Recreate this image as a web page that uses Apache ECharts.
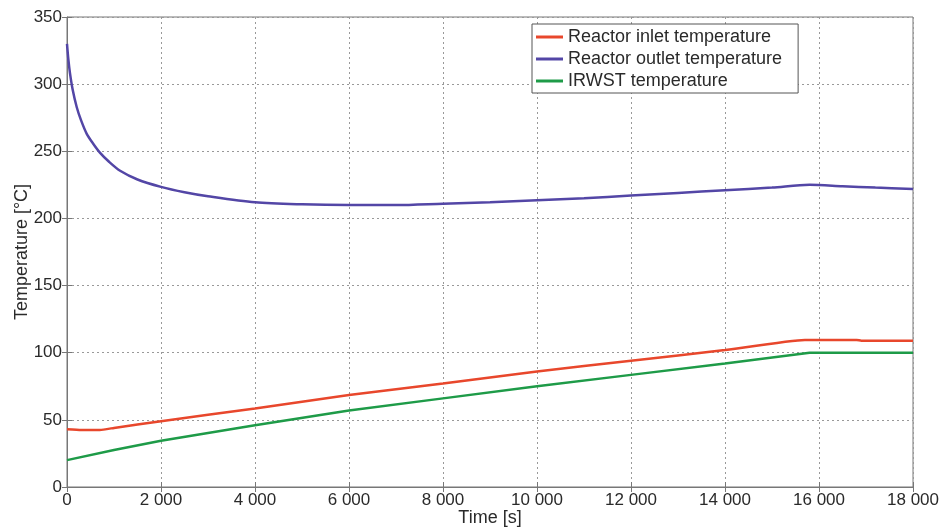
<!DOCTYPE html>
<html>
<head>
<meta charset="utf-8">
<script src="https://cdn.jsdelivr.net/npm/echarts@6/dist/echarts.min.js"></script>
<style>
  html, body { margin: 0; padding: 0; background: #fff; }
  #chart { width: 942px; height: 528px; }
</style>
</head>
<body>
<div id="chart"></div>
<script>
// time [s], temperature [°C]
const inletTime = [0, 300, 700, 1000, 2000, 4000, 6000, 8000, 10000, 12000, 14000, 15700, 16800, 16900, 18000];
const inletTemp = [43, 42.5, 42.5, 44, 49, 58.5, 68.5, 77, 86, 94, 102, 109.5, 109.5, 109, 109];

const outletTime = [0, 30, 64, 120, 206, 300, 420, 550, 700, 900, 1130, 1500, 2000, 2500, 3000, 4000, 5000, 6000, 7000, 8000, 9000, 10000, 11000, 12000, 13000, 14000, 15000, 15800, 16500, 17200, 18000];
const outletTemp = [330, 318, 308, 296, 283, 273, 263, 256, 249, 242, 235.5, 229, 223.5, 219.5, 216.5, 212, 210.5, 210, 210, 211, 212, 213.5, 215, 217, 219, 221, 223, 225, 224, 223, 222];

const irwstTime = [0, 1000, 2000, 4000, 6000, 8000, 10000, 12000, 14000, 15800, 18000];
const irwstTemp = [20, 27.5, 34.5, 46, 57, 66, 75, 83.5, 92, 100, 100];

const pairs = (t, v) => t.map((x, i) => [x, v[i]]);

const myChart = echarts.init(document.getElementById("chart"));
const font = "Liberation Sans, Arial, sans-serif";
const frame = "#777";
const txt = "#2a2a2a";

const option = {
  animation: false,
  textStyle: { fontFamily: font },
  grid: {
    left: 67, right: 29, top: 17, bottom: 41,
    outerBoundsMode: "none",
    show: true, borderColor: frame, borderWidth: 1
  },
  legend: {
    orient: "vertical",
    left: 532,
    top: 24,
    padding: [4, 16, 3, 4],
    itemGap: 4,
    itemWidth: 27,
    itemHeight: 3,
    borderColor: "#555",
    borderWidth: 1,
    backgroundColor: "#fff",
    icon: "rect",
    textStyle: { fontSize: 18, color: txt, fontFamily: font },
    data: ["Reactor inlet temperature", "Reactor outlet temperature", "IRWST temperature"]
  },
  xAxis: [{
    type: "value",
    min: 0, max: 18000, interval: 2000,
    name: "Time [s]",
    nameLocation: "middle",
    nameGap: 22,
    nameMoveOverlap: false,
    nameTextStyle: { fontSize: 18, color: txt },
    axisLine: { lineStyle: { color: frame } },
    axisTick: { inside: true, length: 5, lineStyle: { color: frame } },
    axisLabel: {
      fontSize: 17, color: txt, margin: 5,
      formatter: v => String(v).replace(/\B(?=(\d{3})+(?!\d))/g, " ")
    },
    splitLine: { show: true, lineStyle: { color: "#999", type: [2, 3] } }
  }, {
    type: "value", position: "top",
    min: 0, max: 18000, interval: 2000,
    axisLine: { show: false },
    axisTick: { inside: true, length: 5, lineStyle: { color: frame } },
    axisLabel: { show: false },
    splitLine: { show: false }
  }],
  yAxis: [{
    type: "value",
    min: 0, max: 350, interval: 50,
    name: "Temperature [°C]",
    nameLocation: "middle",
    nameGap: 36,
    nameMoveOverlap: false,
    nameTextStyle: { fontSize: 18, color: txt },
    axisLine: { show: true, lineStyle: { color: frame } },
    axisTick: { show: true, inside: true, length: 5, lineStyle: { color: frame } },
    axisLabel: { fontSize: 17, color: txt, margin: 5 },
    splitLine: { show: true, lineStyle: { color: "#999", type: [2, 3] } }
  }, {
    type: "value", position: "right",
    min: 0, max: 350, interval: 50,
    axisLine: { show: false },
    axisTick: { show: true, inside: true, length: 5, lineStyle: { color: frame } },
    axisLabel: { show: false },
    splitLine: { show: false }
  }],
  series: [
    {
      name: "Reactor inlet temperature", type: "line", showSymbol: false, smooth: 0.15,
      lineStyle: { width: 2.5, color: "#E8472C" }, itemStyle: { color: "#E8472C" },
      data: pairs(inletTime, inletTemp)
    },
    {
      name: "Reactor outlet temperature", type: "line", showSymbol: false, smooth: 0.3,
      lineStyle: { width: 2.5, color: "#5346A6" }, itemStyle: { color: "#5346A6" },
      data: pairs(outletTime, outletTemp)
    },
    {
      name: "IRWST temperature", type: "line", showSymbol: false, smooth: false,
      lineStyle: { width: 2.5, color: "#1E9B48" }, itemStyle: { color: "#1E9B48" },
      data: pairs(irwstTime, irwstTemp)
    }
  ]
};

myChart.setOption(option);
</script>
</body>
</html>
